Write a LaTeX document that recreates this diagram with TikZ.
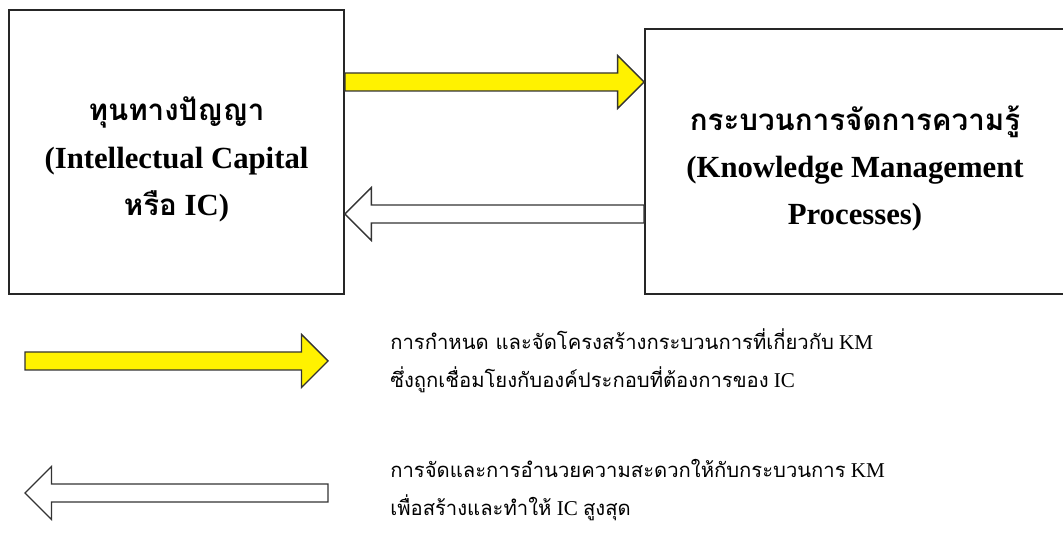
\documentclass[tikz,border=0pt]{standalone}
\usepackage{fontspec}
\setmainfont{Liberation Serif}
\newfontfamily\thaifont[Script=Thai, Scale=0.96]{Loma}
\usepackage{tikz}
\usetikzlibrary{positioning, calc}

\tikzset{
    mainbox/.style={draw=black!85, line width=1.1pt, align=center,
            font=\fontsize{17.5}{27}\selectfont\bfseries},
    legendtext/.style={anchor=west, align=left, inner sep=0pt,
            font=\fontsize{12}{21.5}\selectfont},
    blockarrow/.style={draw=black!80, line width=0.8pt, line join=miter}
}

\begin{document}
\begin{tikzpicture}[x=0.02cm, y=-0.02cm]
        \useasboundingbox (0,0) rectangle (1063,536);
        \clip (0,0) rectangle (1063,536);

        % the two boxes
        \node[mainbox, minimum width=6.7cm, minimum height=5.68cm] (ic) at (176.5,152)
            {\rule{0pt}{22pt}{\thaifont ทุนทางปัญญา}\\(Intellectual Capital\\{\thaifont หรือ} IC)};
        \node[mainbox, minimum width=8.4cm, minimum height=5.3cm] (km) at (855,161.5)
            {\rule{0pt}{22pt}{\thaifont กระบวนการจัดการความรู้}\\(Knowledge Management\\Processes)};

        % arrow ends
        \coordinate (upper) at (0,82);
        \coordinate (lower) at (0,214);
        \coordinate (a1t) at (ic.east |- upper);
        \coordinate (a1p) at (km.west |- upper);
        \coordinate (a2t) at (km.west |- lower);
        \coordinate (a2p) at (ic.east |- lower);
        \coordinate (l1t) at (25,361);
        \coordinate (l1p) at (328,361);
        \coordinate (l2t) at (328,493);
        \coordinate (l2p) at (25,493);

        % block arrows
        \foreach \t/\p/\c in {a1t/a1p/yellow, a2t/a2p/white, l1t/l1p/yellow, l2t/l2p/white} {
                \coordinate (h) at ($(\p)!0.53cm!(\t)$);
                \draw[blockarrow, fill=\c] ($(\t)!0.18cm!90:(\p)$) -- ($(h)!0.18cm!90:(\p)$)
                    -- ($(h)!0.53cm!90:(\p)$) -- (\p) -- ($(h)!0.53cm!-90:(\p)$)
                    -- ($(h)!0.18cm!-90:(\p)$) -- ($(\t)!0.18cm!-90:(\p)$) -- cycle;
            }

        % legend
        \node[legendtext] (l1txt) at (390,361)
            {{\thaifont การกำหนด และจัดโครงสร้างกระบวนการที่เกี่ยวกับ} KM\\
             {\thaifont ซึ่งถูกเชื่อมโยงกับองค์ประกอบที่ต้องการของ} IC};
        \node[legendtext] (l2txt) at (390,490)
            {{\thaifont การจัดและการอำนวยความสะดวกให้กับกระบวนการ} KM\\
             {\thaifont เพื่อสร้างและทำให้} IC {\thaifont สูงสุด}};

    \end{tikzpicture}
\end{document}
